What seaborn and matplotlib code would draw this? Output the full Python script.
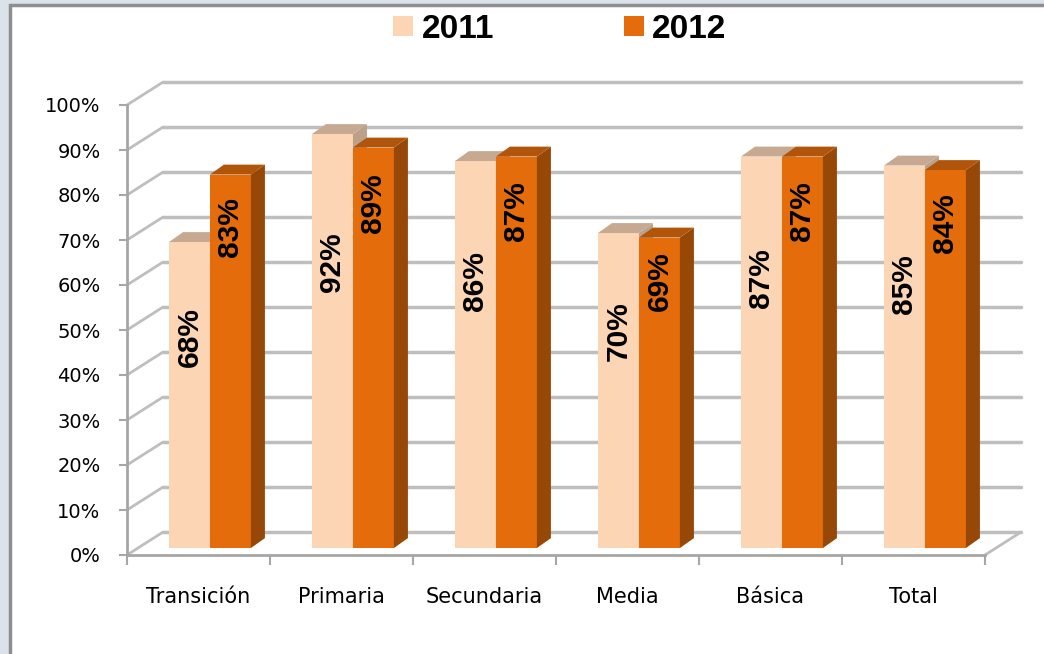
import numpy as np
import pandas as pd
import matplotlib
matplotlib.use('Agg')
import matplotlib.pyplot as plt
from matplotlib.patches import Polygon, Rectangle
from matplotlib.ticker import PercentFormatter
import seaborn as sns

# datos =======================================================================
categorias = ['Transición', 'Primaria', 'Secundaria', 'Media', 'Básica', 'Total']
anios = ['2011', '2012']
valores_2011 = [68, 92, 86, 70, 87, 85]
valores_2012 = [83, 89, 87, 69, 87, 84]
ticks_y = list(range(0, 101, 10))

df = pd.DataFrame({
    'nivel': categorias * 2,
    'anio': [anios[0]] * len(categorias) + [anios[1]] * len(categorias),
    'valor': valores_2011 + valores_2012,
})

colores = {'2011': '#FCD5B5', '2012': '#E46C0A'}
lados = {'2011': '#BCA18A', '2012': '#974806'}
tapas = {'2011': '#C6A990', '2012': '#B0550A'}
gris = '#BEBEBE'

# efecto 3D (unidades de datos)
pared_dx, pared_dy = 0.252, 5.1      # profundidad de la pared del fondo
barra_dx0, barra_dy0 = 0.08, 1.55    # desplazamiento de la cara frontal de las barras
barra_dx, barra_dy = 0.098, 2.2      # profundidad de cada barra
frac_etiqueta = {'2011': 0.69, '2012': 0.86}

sns.set_style('white')
plt.rcParams['font.family'] = ['DejaVu Sans']
plt.rcParams['text.color'] = 'black'

fig = plt.figure(figsize=(10.44, 6.54), dpi=100, facecolor='#DCE2E9')
fig.add_artist(Rectangle((10 / 1044, -0.01), 1.1, 1 - 5 / 654 + 0.01, transform=fig.transFigure,
                         facecolor='white', edgecolor='#8E8E8E', lw=2.5, zorder=-1))

ax = fig.add_axes([127 / 1044, 99 / 654, 858 / 1044, 450 / 654])
ax.set_facecolor('none')

sns.barplot(data=df, x='nivel', y='valor', hue='anio', palette=colores, saturation=1,
            width=0.573, gap=0, linewidth=0, legend=False, ax=ax)

# rejilla 3D ==================================================================
for v in ticks_y:
    ax.plot([-0.5, -0.5 + pared_dx], [v, v + pared_dy], color=gris, lw=2, clip_on=False, zorder=1)
    ax.plot([-0.5 + pared_dx, 5.5 + pared_dx], [v + pared_dy] * 2, color=gris, lw=2.5,
            clip_on=False, zorder=1)
ax.plot([5.5, 5.5 + pared_dx], [0, pared_dy], color=gris, lw=2, clip_on=False, zorder=1)

# barras con caras laterales y superiores ======================================
valores = {'2011': valores_2011, '2012': valores_2012}
for anio, cont in zip(anios, ax.containers):
    z = 3 if anio == '2011' else 4
    for p, v in zip(cont.patches, valores[anio]):
        p.set_x(p.get_x() + barra_dx0)
        p.set_y(barra_dy0)
        p.set_zorder(z)
        x0 = p.get_x()
        x1 = x0 + p.get_width()
        y1 = barra_dy0 + p.get_height()
        lado = Polygon([(x1, barra_dy0), (x1 + barra_dx, barra_dy0 + barra_dy),
                        (x1 + barra_dx, y1 + barra_dy), (x1, y1)],
                       closed=True, facecolor=lados[anio], lw=0, zorder=z)
        tapa = Polygon([(x0, y1), (x1, y1), (x1 + barra_dx, y1 + barra_dy), (x0 + barra_dx, y1 + barra_dy)],
                       closed=True, facecolor=tapas[anio], lw=0, zorder=z, clip_on=False)
        ax.add_patch(lado)
        ax.add_patch(tapa)
        ax.text((x0 + x1) / 2, barra_dy0 + p.get_height() * frac_etiqueta[anio], f'{v:.0f}%',
                rotation=90, ha='center', va='center', fontsize=21.5, fontweight='bold', color='black',
                family=['Liberation Sans Narrow', 'Liberation Sans', 'DejaVu Sans'], zorder=6)

# ejes ========================================================================
ax.set_xlim(-0.5, 5.5)
ax.set_ylim(0, 100)
for s in ['top', 'right']:
    ax.spines[s].set_visible(False)
for s in ['left', 'bottom']:
    ax.spines[s].set_color('#A6A6A6')
    ax.spines[s].set_linewidth(2)
    ax.spines[s].set_zorder(2)

ax.set_yticks(ticks_y)
ax.yaxis.set_major_formatter(PercentFormatter(decimals=0))
ax.tick_params(axis='y', direction='out', length=6, width=1.5, color='#A6A6A6', labelsize=14, pad=13,
               left=True, labelcolor='black')

ax.set_xticks(np.arange(-0.5, 6, 1), [''] * 7)
ax.set_xticks(range(len(categorias)), categorias, minor=True)
ax.tick_params(axis='x', which='major', direction='out', length=7, width=1.5, color='#A6A6A6', bottom=True)
ax.tick_params(axis='x', which='minor', length=0, labelsize=15, pad=23, labelcolor='black')
ax.set_xlabel('')
ax.set_ylabel('')

# leyenda =====================================================================
handles = [Rectangle((0, 0), 1, 1, facecolor=colores[a], lw=0) for a in anios]
fig.legend(handles, anios, loc='center', bbox_to_anchor=(560 / 1044, 1 - 29 / 654), ncol=2,
           frameon=False, prop={'family': 'Liberation Sans', 'weight': 'bold', 'size': 24},
           handlelength=0.6, handleheight=0.55, handletextpad=0.25, columnspacing=3.9,
           labelcolor='black')

fig.savefig('out.png', dpi=100)
